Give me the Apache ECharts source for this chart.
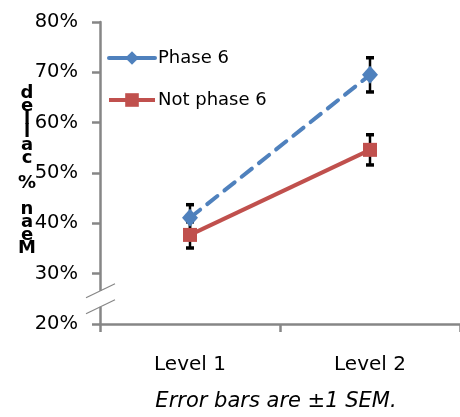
<!DOCTYPE html>
<html><head><meta charset="utf-8">
<script src="https://cdn.jsdelivr.net/npm/echarts@6/dist/echarts.min.js"></script>
<style>html,body{margin:0;padding:0;background:#fff}#c{width:460px;height:417px}</style>
</head><body><div id="c"></div>
<script>
var categories = ['Level 1', 'Level 2'];
var phase6 = [0.411, 0.695];
var phase6Err = [0.026, 0.034];
var notPhase6 = [0.377, 0.546];
var notPhase6Err = [0.026, 0.030];
var yTicks = [0.2, 0.3, 0.4, 0.5, 0.6, 0.7, 0.8];
var yAxisTitle = 'Mean % called';
var footnote = 'Error bars are \u00B11 SEM.';

var FONT = '"DejaVu Sans", sans-serif';
var chart = echarts.init(document.getElementById('c'), null, {renderer: 'canvas'});

function errItem(vals, errs) {
  return vals.map(function (v, i) { return [i, v - errs[i], v + errs[i]]; });
}
function renderErr(params, api) {
  var x = api.value(0);
  var lo = api.coord([x, api.value(1)]);
  var hi = api.coord([x, api.value(2)]);
  var cw = 8;
  return {type: 'group', children: [
    {type: 'line', shape: {x1: lo[0], y1: lo[1], x2: hi[0], y2: hi[1]}, style: {stroke: '#000', lineWidth: 2.5}},
    {type: 'line', shape: {x1: lo[0] - cw / 2, y1: lo[1], x2: lo[0] + cw / 2, y2: lo[1]}, style: {stroke: '#000', lineWidth: 3.5}},
    {type: 'line', shape: {x1: hi[0] - cw / 2, y1: hi[1], x2: hi[0] + cw / 2, y2: hi[1]}, style: {stroke: '#000', lineWidth: 3.5}}
  ]};
}

var option = {
  animation: false,
  backgroundColor: '#fff',
  grid: {left: 100, top: 22, bottom: 93, right: -14},
  legend: {
    orient: 'vertical', left: 102, top: 44, itemGap: 24,
    itemWidth: 46, itemHeight: 17,
    lineStyle: {width: 4, type: 'solid'},
    textStyle: {fontFamily: FONT, fontSize: 18, color: '#000', padding: [0, 0, 0, -2]},
    data: ['Phase 6', 'Not phase 6']
  },
  xAxis: {
    type: 'category', data: categories, boundaryGap: true,
    axisLine: {lineStyle: {color: '#868686', width: 2.5}},
    axisTick: {show: true, length: 8, lineStyle: {color: '#868686', width: 2.5}},
    axisLabel: {fontFamily: FONT, fontSize: 20, color: '#000', margin: 31}
  },
  yAxis: {
    type: 'value', min: yTicks[0], max: yTicks[yTicks.length - 1], interval: 0.1,
    splitLine: {show: false},
    axisLine: {show: true, lineStyle: {color: '#868686', width: 2.5}},
    axisTick: {show: true, length: 8, lineStyle: {color: '#868686', width: 2.5}},
    axisLabel: {fontFamily: FONT, fontSize: 19.5, color: '#000', margin: 22,
      formatter: function (v) { return Math.round(v * 100) + '%'; }}
  },
  series: [
    {name: 'Not phase 6', type: 'line', data: notPhase6, z: 3,
      symbol: 'rect', symbolSize: 14,
      itemStyle: {color: '#C0504D'},
      lineStyle: {color: '#C0504D', width: 4}},
    {name: 'Phase 6', type: 'line', data: phase6, z: 4,
      symbol: 'diamond', symbolSize: [16, 18],
      itemStyle: {color: '#4F81BD'},
      lineStyle: {color: '#4F81BD', width: 4, type: [13, 9], cap: 'round'}},
    {type: 'custom', data: errItem(phase6, phase6Err), renderItem: renderErr, z: 2, encode: {x: 0, y: [1, 2]}},
    {type: 'custom', data: errItem(notPhase6, notPhase6Err), renderItem: renderErr, z: 2, encode: {x: 0, y: [1, 2]}}
  ]
};
chart.setOption(option);

// axis break marks and decorations
var p30 = chart.convertToPixel({yAxisIndex: 0}, yTicks[1]);
var p20 = chart.convertToPixel({yAxisIndex: 0}, yTicks[0]);
var c0 = chart.convertToPixel({xAxisIndex: 0}, 0), c1 = chart.convertToPixel({xAxisIndex: 0}, 1);
var ax = c0 - (c1 - c0) / 2;
var mid = (p30 + p20) / 2;
var b1 = mid - 8, b2 = mid + 8;
var letters = yAxisTitle.split('').reverse().join('\n');
chart.setOption({
  graphic: [
    {type: 'rect', shape: {x: ax - 3, y: b1, width: 6, height: b2 - b1}, style: {fill: '#fff'}, z: 100},
    {type: 'line', shape: {x1: ax - 14, y1: b1 + 7, x2: ax + 15, y2: b1 - 7}, style: {stroke: '#868686', lineWidth: 1.2}, z: 101},
    {type: 'line', shape: {x1: ax - 14, y1: b2 + 7, x2: ax + 15, y2: b2 - 7}, style: {stroke: '#868686', lineWidth: 1.2}, z: 101},
    {type: 'text', z: 101,
      style: {text: letters, x: 27, y: 87, fontFamily: FONT, fontWeight: 'bold', fontSize: 18, lineHeight: 12.9, fill: '#000', align: 'center', verticalAlign: 'top'}},
    {type: 'text', z: 101,
      style: {text: footnote, x: (c0 + c1) / 2 - 4, y: 402, fontFamily: FONT, fontStyle: 'italic', fontSize: 21, fill: '#000', align: 'center', verticalAlign: 'middle'}}
  ]
});
</script></body></html>
